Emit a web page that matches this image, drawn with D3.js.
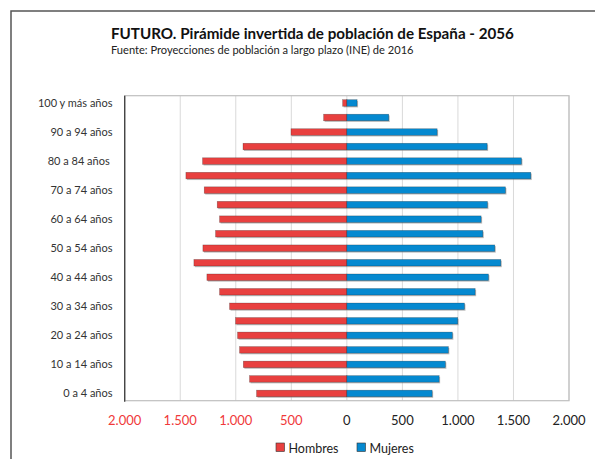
<!DOCTYPE html>
<html>
<head>
<meta charset="utf-8">
<script src="https://cdn.jsdelivr.net/npm/d3@7"></script>
<style>
    body { margin: 0; background: #fff; }
    text { font-family: Lato, "Open Sans", sans-serif; }
</style>
</head>
<body>
<script>
// age groups, bottom to top
var ageGroups = ["0 a 4 años", "5 a 9 años", "10 a 14 años", "15 a 19 años", "20 a 24 años",
    "25 a 29 años", "30 a 34 años", "35 a 39 años", "40 a 44 años", "45 a 49 años",
    "50 a 54 años", "55 a 59 años", "60 a 64 años", "65 a 69 años", "70 a 74 años",
    "75 a 79 años", "80 a 84 años ", "85 a 89 años", "90 a 94 años", "95 a 99 años",
    "100 y más años"];

// thousands of people
var hombres = [813, 876, 932, 966, 984, 1002, 1056, 1146, 1260, 1377,
    1296, 1182, 1146, 1167, 1284, 1449, 1299, 935, 503, 209, 38];
var mujeres = [768, 831, 887, 914, 950, 998, 1059, 1155, 1275, 1386,
    1332, 1224, 1209, 1266, 1428, 1656, 1572, 1263, 813, 377, 92];

var xTicks = [-2000, -1500, -1000, -500, 0, 500, 1000, 1500, 2000];
var seriesNames = ["Hombres", "Mujeres"];
var seriesColors = ["#E8403F", "#0589D0"];

var w = 595, h = 459;
var svg = d3.select("body").append("svg")
    .attr("width", w)
    .attr("height", h);

// outer frame (only top and left show in the picture)
svg.append("path")
    .attr("d", "M11," + h + "V11H" + w)
    .attr("fill", "none")
    .attr("stroke", "#555")
    .attr("stroke-width", 1.5);

// titles
svg.append("text")
    .attr("x", 111).attr("y", 38.5)
    .attr("font-size", 15.2).attr("font-weight", "bold")
    .attr("fill", "#111")
    .text("FUTURO. Pirámide invertida de población de España - 2056");
svg.append("text")
    .attr("x", 111).attr("y", 54)
    .attr("font-size", 11.1)
    .attr("fill", "#222")
    .text("Fuente: Proyecciones de población a largo plazo (INE) de 2016");

var plot = { left: 124.7, right: 569, top: 95.7, bottom: 400.7 };

var x = d3.scaleLinear()
    .domain([-2000, 2000])
    .range([plot.left, plot.right]);

var y = d3.scaleBand()
    .domain(ageGroups)
    .range([plot.bottom, plot.top])
    .paddingInner(0.55)
    .paddingOuter(0.275);

// gridlines
svg.append("g").selectAll("line")
    .data(xTicks)
    .enter().append("line")
    .attr("x1", function(d){ return x(d); })
    .attr("x2", function(d){ return x(d); })
    .attr("y1", plot.top).attr("y2", plot.bottom)
    .attr("stroke", "#d9d9d9")
    .attr("stroke-width", 1);

// plot area border
svg.append("rect")
    .attr("x", plot.left).attr("y", plot.top)
    .attr("width", plot.right - plot.left)
    .attr("height", plot.bottom - plot.top)
    .attr("fill", "none")
    .attr("stroke", "#bfbfbf")
    .attr("stroke-width", 1.2);

// bars: shadow first, then the bar
var rows = ageGroups.map(function(a, i){
    return { age: a, h: hombres[i], m: mujeres[i] };
});

function drawSide(key, color, sign){
    var g = svg.append("g");
    g.selectAll(".shadow")
        .data(rows)
        .enter().append("rect")
        .attr("class", "shadow")
        .attr("x", function(d){ return Math.min(x(0), x(sign * d[key])) + 1; })
        .attr("y", function(d){ return y(d.age) + 1.2; })
        .attr("width", function(d){ return Math.abs(x(sign * d[key]) - x(0)); })
        .attr("height", y.bandwidth())
        .attr("fill", "#8c8c8c")
        .attr("opacity", 0.55);
    g.selectAll(".bar")
        .data(rows)
        .enter().append("rect")
        .attr("class", "bar")
        .attr("x", function(d){ return Math.min(x(0), x(sign * d[key])); })
        .attr("y", function(d){ return y(d.age); })
        .attr("width", function(d){ return Math.abs(x(sign * d[key]) - x(0)); })
        .attr("height", y.bandwidth())
        .attr("fill", color)
        .attr("stroke", "rgba(0,0,0,0.35)")
        .attr("stroke-width", 0.6);
}
drawSide("h", seriesColors[0], -1);
drawSide("m", seriesColors[1], 1);

// left axis line
svg.append("line")
    .attr("x1", plot.left).attr("x2", plot.left)
    .attr("y1", plot.top).attr("y2", plot.bottom + 1)
    .attr("stroke", "#404040")
    .attr("stroke-width", 1.3);

// y labels, every other group
svg.append("g").selectAll("text")
    .data(ageGroups.filter(function(d, i){ return i % 2 === 0; }))
    .enter().append("text")
    .attr("x", 112.5)
    .attr("y", function(d){ return y(d) + y.bandwidth() / 2; })
    .attr("dy", "0.35em")
    .attr("text-anchor", "end")
    .attr("font-size", 11)
    .attr("fill", "#333")
    .style("white-space", "pre")
    .attr("xml:space", "preserve")
    .text(function(d){ return d; });

// x tick labels (negative side in red, shown without sign)
var fmt = d3.formatLocale({ decimal: ",", thousands: ".", grouping: [3], currency: ["", "€"] }).format(",");
svg.append("g").selectAll("text")
    .data(xTicks)
    .enter().append("text")
    .attr("x", function(d){ return x(d); })
    .attr("y", 425)
    .attr("text-anchor", "middle")
    .attr("font-size", 13)
    .attr("fill", function(d){ return d < 0 ? "#F0393A" : "#222"; })
    .text(function(d){ return fmt(Math.abs(d)); });

// legend
var legend = svg.append("g").attr("transform", "translate(276,443)");
var legendX = [0, 81];
seriesNames.forEach(function(name, i){
    legend.append("rect")
        .attr("x", legendX[i]).attr("y", 0)
        .attr("width", 8.5).attr("height", 8.5)
        .attr("fill", seriesColors[i])
        .attr("stroke", "#333").attr("stroke-width", 0.6);
    legend.append("text")
        .attr("x", legendX[i] + 12.5).attr("y", 9.5)
        .attr("font-size", 12.5)
        .attr("fill", "#222")
        .text(name);
});
</script>
</body>
</html>
